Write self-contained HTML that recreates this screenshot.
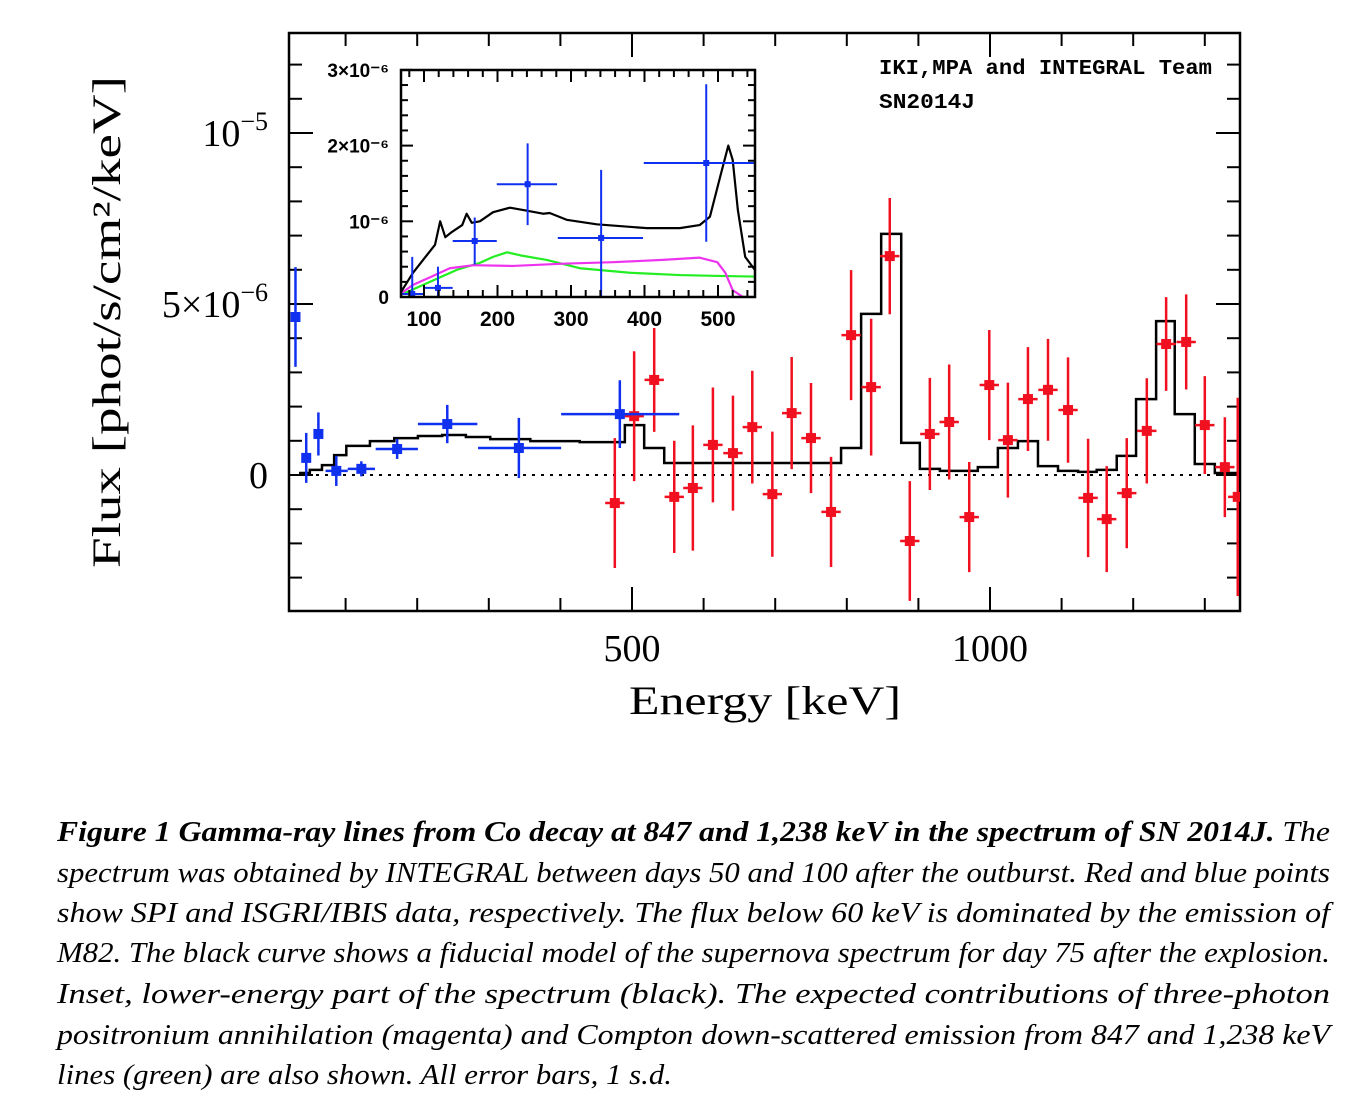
<!DOCTYPE html>
<html><head><meta charset="utf-8">
<style>
html,body{margin:0;padding:0;background:#fff;}
svg{display:block;}
</style></head>
<body>
<svg id="fig" width="1348" height="1104" viewBox="0 0 1348 1104" xmlns="http://www.w3.org/2000/svg">
<defs>
<clipPath id="mainclip"><rect x="289" y="33" width="951" height="578"/></clipPath>
<clipPath id="insetclip"><rect x="401" y="70" width="354" height="227"/></clipPath>
</defs>
<rect x="0" y="0" width="1348" height="1104" fill="#fff"/>
<g id="main"></g>
<g id="inset"></g>
<g font-family="'Liberation Mono', monospace" font-weight="bold" font-size="21" fill="#000">
<text x="879" y="74" textLength="333" lengthAdjust="spacingAndGlyphs">IKI,MPA and INTEGRAL Team</text>
<text x="879" y="108" textLength="96" lengthAdjust="spacingAndGlyphs">SN2014J</text>
</g>
<text transform="translate(120,322) rotate(-90)" text-anchor="middle" font-family="'Liberation Serif', serif" font-size="40" fill="#000" textLength="492" lengthAdjust="spacingAndGlyphs">Flux [phot/s/cm²/keV]</text>
<text x="765" y="714" text-anchor="middle" font-family="'Liberation Serif', serif" font-size="40" fill="#000" textLength="272" lengthAdjust="spacingAndGlyphs">Energy [keV]</text>
<g font-family="'Liberation Serif', serif" font-style="italic" font-size="28" fill="#000">
<text x="57" y="841" textLength="1273" lengthAdjust="spacingAndGlyphs"><tspan font-weight="bold">Figure 1 Gamma-ray lines from Co decay at 847 and 1,238 keV in the spectrum of SN 2014J.</tspan> The</text>
<text x="57" y="882" textLength="1273" lengthAdjust="spacingAndGlyphs">spectrum was obtained by INTEGRAL between days 50 and 100 after the outburst. Red and blue points</text>
<text x="57" y="922" textLength="1273" lengthAdjust="spacingAndGlyphs">show SPI and ISGRI/IBIS data, respectively. The flux below 60 keV is dominated by the emission of</text>
<text x="57" y="962" textLength="1273" lengthAdjust="spacingAndGlyphs">M82. The black curve shows a fiducial model of the supernova spectrum for day 75 after the explosion.</text>
<text x="57" y="1003" textLength="1273" lengthAdjust="spacingAndGlyphs">Inset, lower-energy part of the spectrum (black). The expected contributions of three-photon</text>
<text x="57" y="1044" textLength="1273" lengthAdjust="spacingAndGlyphs">positronium annihilation (magenta) and Compton down-scattered emission from 847 and 1,238 keV</text>
<text x="57" y="1084" textLength="615" lengthAdjust="spacingAndGlyphs">lines (green) are also shown. All error bars, 1 s.d.</text>
</g>
</svg>
<script>
// ---- main chart data (energy keV, flux in 1e-6 phot/s/cm2/keV) ----
const spiE = [476,503,531,559,585,613,641,668,696,723,750,778,806,834,860,888,916,943,971,999,1025,1053,1081,1109,1137,1163,1191,1219,1246,1274,1300,1328,1346];
const spiF = [-0.82,1.72,2.78,-0.64,-0.38,0.88,0.64,1.4,-0.56,1.81,1.08,-1.08,4.09,2.57,6.4,-1.93,1.2,1.55,-1.23,2.63,1.02,2.22,2.49,1.9,-0.67,-1.29,-0.53,1.29,3.83,3.89,1.46,0.23,-0.64];
const spiErr = [1.9,1.9,1.52,1.64,1.83,1.68,1.68,1.65,1.83,1.64,1.61,1.61,1.9,2.0,1.7,1.75,1.64,1.68,1.61,1.61,1.68,1.52,1.49,1.54,1.73,1.55,1.61,1.54,1.37,1.39,1.43,1.46,2.9];
const isgE = [30,45,62,87,122,172,242,342,483];
const isgF = [4.62,0.5,1.2,0.12,0.18,0.76,1.49,0.79,1.78];
const isgErr = [1.46,0.73,0.63,0.44,0.22,0.29,0.56,0.88,0.99];
const isgLo = [28,43,60,72,103,142,201,285,401];
const isgHi = [32,47,64,103,141,201,284,401,566];
const modelEdges = [35,50,67,84,101,134,168,201,235,268,302,358,427,490,517,545,792,820,848,876,902,930,983,1011,1039,1067,1095,1123,1149,1177,1204,1232,1258,1286,1314,1349];
const modelFlux = [0.06,0.15,0.29,0.58,0.85,0.99,1.08,1.14,1.17,1.11,1.05,0.99,0.96,1.46,0.79,0.35,0.79,4.71,7.05,0.94,0.18,0.12,0.23,0.79,0.99,0.26,0.12,0.09,0.15,0.56,2.22,4.50,1.78,0.32,0.06];
const mainXTicks = [500,1000];
const mainXTickLabels = ["500","1000"];
// ---- inset data ----
const insetBlackE = [69,85,115,122,129,138,152,158,165,176,194,217,240,262,271,294,335,403,448,475,489,503,514,520,527,537,550];
const insetBlackF = [0.07,0.32,0.69,1.0,0.79,0.86,0.95,1.10,0.98,1.0,1.12,1.18,1.14,1.10,1.11,1.02,0.96,0.91,0.91,0.95,1.06,1.59,2.0,1.81,1.15,0.53,0.36];
const insetMagE = [69,85,108,135,167,221,289,357,425,475,499,510,520,534,550];
const insetMagF = [0.05,0.16,0.26,0.38,0.42,0.41,0.44,0.46,0.49,0.52,0.46,0.32,0.09,0.0,0.0];
const insetGrnE = [69,108,145,176,194,213,231,267,312,380,448,493,550];
const insetGrnF = [0.03,0.2,0.36,0.45,0.53,0.59,0.55,0.49,0.38,0.32,0.29,0.28,0.27];
const insetPtE = [84,119,169,241,341,484];
const insetPtF = [0.04,0.12,0.74,1.49,0.78,1.77];
const insetPtErr = [0.49,0.28,0.31,0.54,0.9,1.04];
const insetPtLo = [70,99,139,199,282,399];
const insetPtHi = [99,139,199,281,398,550];
const insetXTicks = [100,200,300,400,500];
const insetYTicks = [0,1,2,3];
const insetYTickLabels = ["0","10⁻⁶","2×10⁻⁶","3×10⁻⁶"];

const NS = "http://www.w3.org/2000/svg";
function mk(parent, tag, attrs){ const e=document.createElementNS(NS,tag); for(const k in attrs) e.setAttribute(k,attrs[k]); parent.appendChild(e); return e; }

// main axes
const MX0=289,MX1=1240,MY0=33,MY1=611;
const mx = e => 632 + (e-500)*0.716;
const my = f => 475 - f*34.2;
const main = document.getElementById('main');
const mframe = mk(main,'rect',{x:MX0,y:MY0,width:MX1-MX0,height:MY1-MY0,fill:'none',stroke:'#000','stroke-width':2.5});


// x ticks
for(let e=100;e<=1300;e+=100){
  const x=mx(e); const L=(e%500===0)?24:13;
  const t1=mk(main,'line',{x1:x,y1:MY1,x2:x,y2:MY1-L,stroke:'#000','stroke-width':2});
  
  
  const t2=mk(main,'line',{x1:x,y1:MY0,x2:x,y2:MY0+L,stroke:'#000','stroke-width':2});
  
  
}
for(let i=0;i<mainXTicks.length;i++){
  const t=mk(main,'text',{x:mx(mainXTicks[i]),y:661,'text-anchor':'middle','font-family':"'Liberation Serif', serif",'font-size':38});
  t.textContent=mainXTickLabels[i];
  
  
}
// y ticks
for(let f=-3;f<=12;f+=1){
  const y=my(f); const L=(f%5===0)?24:13;
  const a=mk(main,'line',{x1:MX0,y1:y,x2:MX0+L,y2:y,stroke:'#000','stroke-width':2});
  
  
  const b=mk(main,'line',{x1:MX1,y1:y,x2:MX1-L,y2:y,stroke:'#000','stroke-width':2});
  
  
}
function ylab(f, html, name){
  const t=mk(main,'text',{x:268,y:my(f)+13,'text-anchor':'end','font-family':"'Liberation Serif', serif",'font-size':38});
  t.innerHTML=html;
  
  
}
ylab(10,'10<tspan dy="-16" font-size="26">−5</tspan>','y-tick-label-1e-5');
ylab(5,'5×10<tspan dy="-16" font-size="26">−6</tspan>','y-tick-label-5e-6');
ylab(0,'0','y-tick-label-0');
// zero line
const zl=mk(main,'line',{x1:MX0,y1:my(0),x2:MX1,y2:my(0),stroke:'#000','stroke-width':2,'stroke-dasharray':'3,6'});


const mg=mk(main,'g',{'clip-path':'url(#mainclip)'});


// model step
let d='M'+mx(modelEdges[0])+','+my(modelFlux[0]);
for(let i=0;i<modelFlux.length;i++){
  if(i>0) d+=' L'+mx(modelEdges[i])+','+my(modelFlux[i]);
  d+=' L'+mx(modelEdges[i+1])+','+my(modelFlux[i]);
}
const mp=mk(mg,'path',{d:d,fill:'none',stroke:'#000','stroke-width':2.5});


// SPI points
for(let i=0;i<spiE.length;i++){
  const g=mk(mg,'g',{});
  
  
  const x=mx(spiE[i]), y=my(spiF[i]);
  mk(g,'line',{x1:x,y1:my(spiF[i]-spiErr[i]),x2:x,y2:my(spiF[i]+spiErr[i]),stroke:'#f01020','stroke-width':2.5});
  mk(g,'line',{x1:mx(spiE[i]-13.5),y1:y,x2:mx(spiE[i]+13.5),y2:y,stroke:'#f01020','stroke-width':2.5});
  mk(g,'rect',{x:x-5,y:y-5,width:10,height:10,fill:'#f01020'});
}
// ISGRI points
for(let i=0;i<isgE.length;i++){
  const g=mk(mg,'g',{});
  
  
  const x=mx(isgE[i]), y=my(isgF[i]);
  mk(g,'line',{x1:x,y1:my(isgF[i]-isgErr[i]),x2:x,y2:my(isgF[i]+isgErr[i]),stroke:'#1030f0','stroke-width':2.5});
  mk(g,'line',{x1:mx(isgLo[i]),y1:y,x2:mx(isgHi[i]),y2:y,stroke:'#1030f0','stroke-width':2.5});
  mk(g,'rect',{x:x-5,y:y-5,width:10,height:10,fill:'#1030f0'});
}

// ---- inset ----
const IX0=401,IX1=755,IY0=70,IY1=297;
const ix = e => 424 + (e-100)*0.735;
const iy = f => 297 - f*75.7;
const ins=document.getElementById('inset');
const bg=mk(ins,'rect',{x:IX0,y:IY0,width:IX1-IX0,height:IY1-IY0,fill:'#fff'});


const ig=mk(ins,'g',{'clip-path':'url(#insetclip)'});


function curve(E,F,color,name){
  let p='';
  for(let i=0;i<E.length;i++) p+=(i?' L':'M')+ix(E[i])+','+iy(F[i]);
  const c=mk(ig,'path',{d:p,fill:'none',stroke:color,'stroke-width':2.2,'stroke-linejoin':'round'});
  
  
}
curve(insetGrnE,insetGrnF,'#22ee22','compton-curve');
curve(insetMagE,insetMagF,'#ee33ee','positronium-curve');
curve(insetBlackE,insetBlackF,'#000','inset-model-curve');
for(let i=0;i<insetPtE.length;i++){
  const g=mk(ig,'g',{});
  
  
  const x=ix(insetPtE[i]), y=iy(insetPtF[i]);
  mk(g,'line',{x1:x,y1:iy(insetPtF[i]-insetPtErr[i]),x2:x,y2:iy(insetPtF[i]+insetPtErr[i]),stroke:'#1030f0','stroke-width':2});
  mk(g,'line',{x1:ix(insetPtLo[i]),y1:y,x2:ix(insetPtHi[i]),y2:y,stroke:'#1030f0','stroke-width':2});
  mk(g,'rect',{x:x-3,y:y-3,width:6,height:6,fill:'#1030f0'});
}
const ifr=mk(ins,'rect',{x:IX0,y:IY0,width:IX1-IX0,height:IY1-IY0,fill:'none',stroke:'#000','stroke-width':2.5});


for(let e=80;e<=540;e+=20){
  const x=ix(e); const L=(e%100===0)?12:7;
  const a=mk(ins,'line',{x1:x,y1:IY1,x2:x,y2:IY1-L,stroke:'#000','stroke-width':2});
  
  
  const b=mk(ins,'line',{x1:x,y1:IY0,x2:x,y2:IY0+L,stroke:'#000','stroke-width':2});
  
  
}
for(let f=0;f<=3.001;f+=0.2){
  const y=iy(f); const L=(Math.abs(f-Math.round(f))<0.01)?12:7;
  const a=mk(ins,'line',{x1:IX0,y1:y,x2:IX0+L,y2:y,stroke:'#000','stroke-width':2});
  
  
  const b=mk(ins,'line',{x1:IX1,y1:y,x2:IX1-L,y2:y,stroke:'#000','stroke-width':2});
  
  
}
for(let i=0;i<insetXTicks.length;i++){
  const t=mk(ins,'text',{x:ix(insetXTicks[i]),y:326,'text-anchor':'middle','font-family':"'Liberation Sans', sans-serif",'font-weight':'bold','font-size':21});
  t.textContent=String(insetXTicks[i]);
  
  
}
for(let i=0;i<insetYTicks.length;i++){
  const t=mk(ins,'text',{x:389,y:iy(insetYTicks[i])+7,'text-anchor':'end','font-family':"'Liberation Sans', sans-serif",'font-weight':'bold','font-size':19});
  t.textContent=insetYTickLabels[i];
  
  
}
</script>
</body></html>
